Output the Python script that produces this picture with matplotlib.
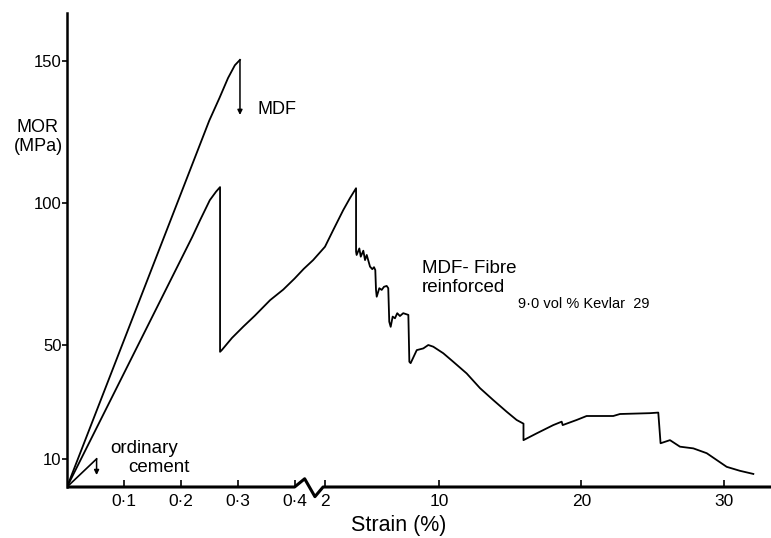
import numpy as np
import matplotlib
matplotlib.use("Agg")
import matplotlib.pyplot as plt
from matplotlib.ticker import FixedLocator

plt.rcParams['font.family'] = ['Liberation Sans', 'DejaVu Sans']

# plain MDF cement
mdf_strain = [0, 0.25, 0.268, 0.283, 0.295, 0.304]
mdf_mor = [0, 129, 137, 144, 148.5, 150.4]
mdf_fail_mor = 131

# ordinary cement
cement_strain = [0, 0.052]
cement_mor = [0, 9.9]
cement_fail_mor = 4.2

# MDF reinforced with 9.0 vol% Kevlar 29
fibre_strain = [
    0, 0.22, 0.234, 0.251, 0.262, 0.269, 0.269, 0.272, 0.29, 0.31,
    0.33, 0.357, 0.38, 0.4, 0.88, 1.376, 2.0, 2.58, 3.28, 3.75,
    4.18, 4.18, 4.22, 4.41, 4.51, 4.69, 4.81, 4.93, 5.16, 5.32,
    5.44, 5.53, 5.58, 5.63, 5.81, 5.98, 6.14, 6.33, 6.44, 6.51,
    6.61, 6.75, 6.91, 7.07, 7.26, 7.49, 7.85, 7.92, 8.01, 8.44,
    8.90, 9.25, 9.60, 10.30, 11.00, 11.94, 12.88, 13.81, 14.75, 15.45,
    15.93, 15.93, 16.86, 18.02, 18.61, 18.68, 19.66, 20.36, 22.23, 22.70,
    24.81, 25.39, 25.55, 26.21, 26.91, 27.85, 28.79, 30.19, 31.12, 32.06,
]
fibre_mor = [
    0, 88, 94, 101, 104, 105.6, 47.6, 48.2, 52.5, 56.5,
    60.3, 65.8, 69.5, 73.4, 76.8, 79.9, 84.6, 90.5, 97.5, 101.7,
    105.2, 82.9, 81.7, 84.0, 81.1, 83.2, 79.9, 81.7, 77.6, 76.7,
    77.4, 76.4, 69.4, 67.0, 70.0, 69.4, 70.5, 70.8, 70.0, 58.2,
    56.4, 60.0, 59.4, 61.2, 60.2, 61.2, 60.6, 44.1, 43.6, 48.2,
    48.8, 50.0, 49.4, 47.1, 44.1, 40.0, 34.8, 30.6, 26.5, 23.6,
    22.3, 16.5, 18.9, 21.8, 23.0, 21.8, 23.6, 25.0, 25.0, 25.7,
    26.0, 26.2, 15.4, 16.5, 14.2, 13.6, 11.9, 7.1, 5.7, 4.6,
]

x_ticks = [0.1, 0.2, 0.3, 0.4, 2, 10, 20, 30]
x_ticklabels = ['0·1', '0·2', '0·3', '0·4', '2', '10', '20', '30']
y_ticks = [10, 50, 100, 150]


# broken strain axis: 0-0.4 stretched, 0.4-2 squeezed into the break, 2+ compressed
def fwd(x):
    x = np.asarray(x, dtype=float)
    return np.where(x <= 0.4, x * 569,
                    np.where(x < 2, 227.6 + (x - 0.4) / 1.6 * 30.4,
                             258 + (x - 2) * 14.25))


def inv(u):
    u = np.asarray(u, dtype=float)
    return np.where(u <= 227.6, u / 569,
                    np.where(u < 258, 0.4 + (u - 227.6) / 30.4 * 1.6,
                             2 + (u - 258) / 14.25))


fig = plt.figure(figsize=(7.71, 5.38), dpi=100)
ax = fig.add_axes([67 / 771, 51 / 538, 704 / 771, 474 / 538])
ax.set_xscale('function', functions=(fwd, inv))
ax.set_xlim(0, 33.3)
ax.set_ylim(0, 166.9)

lw = 1.3
ax.plot(mdf_strain, mdf_mor, color='black', lw=lw)
ax.plot(cement_strain, cement_mor, color='black', lw=1.2)
ax.plot(fibre_strain, fibre_mor, color='black', lw=lw)

arrow = dict(arrowstyle='-|>', color='black', lw=1.1, mutation_scale=7,
             shrinkA=0, shrinkB=0)
ax.annotate('', xy=(mdf_strain[-1], mdf_fail_mor),
            xytext=(mdf_strain[-1], mdf_mor[-1]), arrowprops=arrow)
ax.annotate('', xy=(cement_strain[-1], cement_fail_mor),
            xytext=(cement_strain[-1], cement_mor[-1]), arrowprops=arrow)

# axes styling
for s in ['top', 'right', 'bottom']:
    ax.spines[s].set_visible(False)
ax.spines['left'].set_linewidth(1.8)
# strain axis drawn by hand, with the zig-zag break between 0.4 and 2
ax.plot([0, 0.4, 0.93, 1.47, 1.9, 33.3], [0, 0, 2.9, -3.4, 0, 0],
        color='black', lw=2.2, clip_on=False, solid_capstyle='butt',
        snap=False, zorder=3)

ax.xaxis.set_major_locator(FixedLocator(x_ticks))
ax.set_xticklabels(x_ticklabels)
ax.xaxis.set_minor_locator(FixedLocator([]))
ax.set_yticks(y_ticks)
ax.tick_params(axis='x', direction='in', length=5, width=1.2, pad=5,
               labelsize=12.5)
ax.tick_params(axis='y', direction='out', length=3.5, width=1.2, pad=0.5,
               labelsize=12)

ax.set_xlabel('Strain (%)', fontsize=15.5)
ax.xaxis.set_label_coords((399 - 67) / 704, -0.060)
fig.text(38 / 771, 1 - 137 / 538, 'MOR\n(MPa)', ha='center', va='center',
         fontsize=13, linespacing=1.2)

ax.text(0.334, 131.5, 'MDF', fontsize=13)
ax.text(0.0756, 11.9, 'ordinary', fontsize=13.5)
ax.text(0.1077, 5.4, 'cement', fontsize=13.5)
ax.text(8.79, 75.2, 'MDF- Fibre', fontsize=13.5)
ax.text(8.79, 68.8, 'reinforced', fontsize=13.5)
ax.text(15.54, 62.9, '9·0 vol % Kevlar  29', fontsize=10.5)

fig.savefig('out.png', dpi=100)
